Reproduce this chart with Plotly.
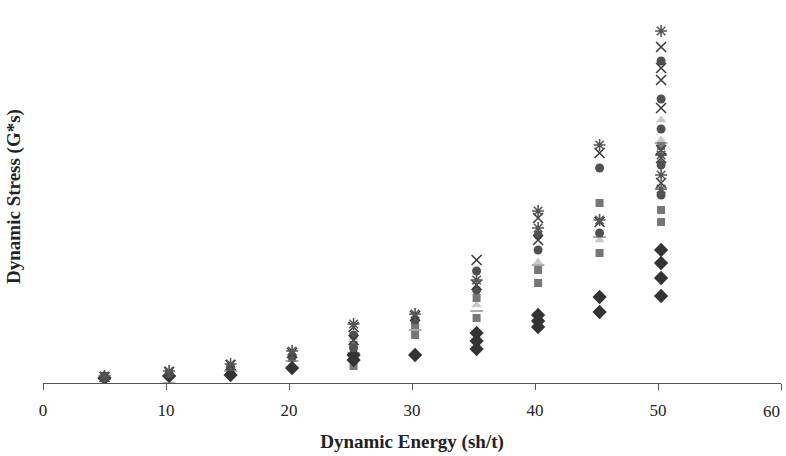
import plotly.graph_objects as go

# Energy levels (sh/t) and stress values (arbitrary units)
diamond_x = [5, 10, 15, 20, 25, 25, 30, 35, 35, 35, 40, 40, 40, 45, 45, 50, 50, 50, 50]
diamond_y = [0.5, 0.7, 0.8, 1.5, 2.3, 2.8, 2.8, 5.0, 4.2, 3.4, 6.8, 6.2, 5.6, 8.6, 7.1, 13.3, 12.0, 10.5, 8.7]

square_x = [5, 10, 15, 20, 25, 25, 30, 30, 35, 35, 40, 40, 45, 45, 50, 50, 50]
square_y = [0.7, 1.0, 1.5, 2.5, 1.7, 3.8, 4.8, 5.8, 6.5, 8.5, 10.0, 11.3, 18.0, 13.0, 23.7, 17.3, 16.1]

triangle_x = [5, 10, 15, 20, 25, 30, 35, 40, 45, 50, 50]
triangle_y = [0.6, 1.0, 1.7, 2.8, 4.5, 6.0, 7.8, 12.1, 14.3, 24.3, 26.3]

xmark_x = [5, 10, 15, 20, 25, 25, 30, 35, 35, 40, 40, 45, 45, 50, 50, 50, 50, 50, 50, 50]
xmark_y = [0.6, 1.1, 1.8, 3.0, 5.6, 4.3, 6.7, 12.3, 9.8, 16.5, 14.3, 23.0, 16.1,
           33.6, 31.5, 30.3, 27.5, 23.3, 22.5, 20.0]

aster_x = [5, 10, 15, 20, 25, 30, 35, 40, 40, 45, 45, 50, 50, 50, 50]
aster_y = [0.7, 1.2, 1.9, 3.2, 5.9, 6.9, 10.3, 17.2, 15.5, 23.8, 16.3, 35.2, 20.8, 19.4, 22.8]

circle_x = [5, 10, 15, 20, 25, 25, 30, 35, 35, 40, 40, 45, 45, 50, 50, 50, 50, 50]
circle_y = [0.5, 0.9, 1.6, 2.7, 4.8, 3.5, 6.3, 11.2, 9.3, 14.8, 13.3, 21.5, 15.0,
            32.2, 28.4, 25.4, 21.8, 18.8]

dash_x = [5, 10, 15, 20, 25, 30, 35, 40, 45, 50]
dash_y = [0.4, 0.0, 1.2, 2.2, 3.0, 5.3, 7.2, 11.8, 14.6, 24.0]

x_ticks = [0, 10, 20, 30, 40, 50, 60]

# small offset so columns sit where the reference draws them
def shift(xs):
    return [v + 0.25 if v >= 10 else v for v in xs]

fig = go.Figure()
fig.add_trace(go.Scatter(x=shift(dash_x), y=dash_y, mode="markers",
                         marker=dict(symbol="line-ew-open", size=9, color="#aaaaaa",
                                     line=dict(color="#aaaaaa", width=2))))
fig.add_trace(go.Scatter(x=shift(triangle_x), y=triangle_y, mode="markers",
                         marker=dict(symbol="triangle-up", size=9, color="#c8c8c8")))
fig.add_trace(go.Scatter(x=shift(square_x), y=square_y, mode="markers",
                         marker=dict(symbol="square", size=8, color="#777777")))
fig.add_trace(go.Scatter(x=shift(diamond_x), y=diamond_y, mode="markers",
                         marker=dict(symbol="diamond", size=11, color="#333333")))
fig.add_trace(go.Scatter(x=shift(circle_x), y=circle_y, mode="markers",
                         marker=dict(symbol="circle", size=9, color="#505050")))
fig.add_trace(go.Scatter(x=shift(xmark_x), y=xmark_y, mode="markers",
                         marker=dict(symbol="x-thin-open", size=10, color="#3a3a3a",
                                     line=dict(color="#3a3a3a", width=1.6))))
fig.add_trace(go.Scatter(x=shift(aster_x), y=aster_y, mode="markers",
                         marker=dict(symbol="asterisk-open", size=10, color="#555555",
                                     line=dict(color="#555555", width=1.6))))

font = "Liberation Serif, Times New Roman, serif"
fig.update_layout(
    width=786, height=456,
    margin=dict(l=43, r=5, t=10, b=73),
    paper_bgcolor="white", plot_bgcolor="white",
    showlegend=False,
    font=dict(family=font, size=17, color="#222222"),
    xaxis=dict(range=[0, 60], tickvals=x_ticks,
               ticktext=[str(v) for v in x_ticks[:-1]] + [""],
               showline=True, linecolor="#555555", linewidth=1.2,
               ticks="outside", ticklen=6, tickcolor="#555555",
               ticklabelstandoff=5,
               showgrid=False, zeroline=False,
               tickfont=dict(family=font, size=17, color="#222222"),
               title=dict(text="<b>Dynamic Energy (sh/t)</b>", standoff=16,
                          font=dict(family=font, size=19, color="#222222"))),
    yaxis=dict(range=[0, 37.3], showline=False, showticklabels=False, ticks="",
               showgrid=False, zeroline=False,
               title=dict(text="<b>Dynamic Stress (G*s)</b>", standoff=16,
                          font=dict(family=font, size=19, color="#222222"))),
)
# last tick label would overflow the page edge; place it just inside like the reference
fig.add_annotation(x=1, xref="paper", xanchor="right", xshift=1,
                   y=0, yref="paper", yanchor="top", yshift=-17,
                   text=str(x_ticks[-1]), showarrow=False,
                   font=dict(family=font, size=17, color="#222222"))

fig.write_html("out.html")
